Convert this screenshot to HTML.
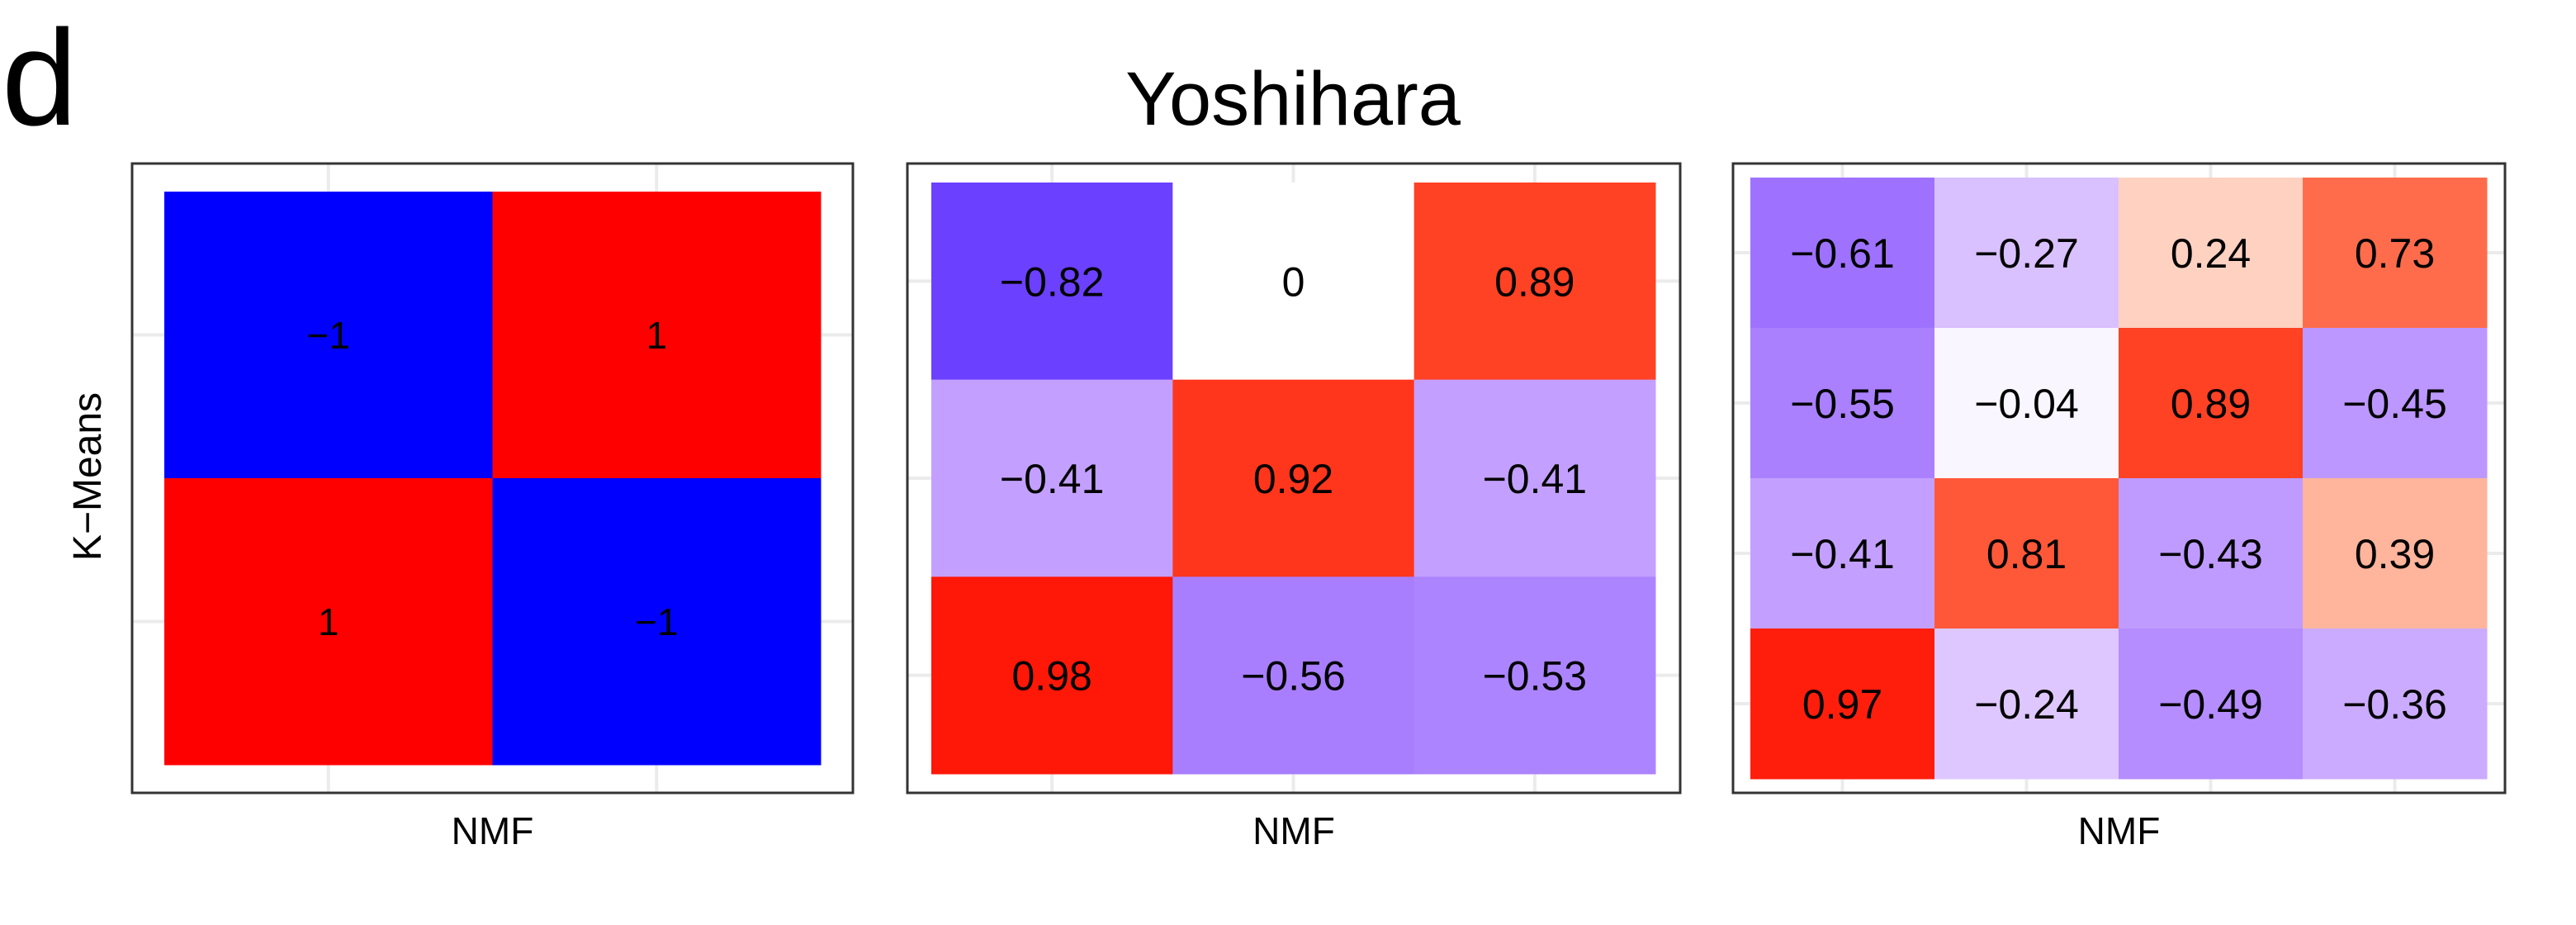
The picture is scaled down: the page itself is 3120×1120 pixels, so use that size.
<!DOCTYPE html>
<html><head><meta charset="utf-8"><style>
html,body{margin:0;padding:0;background:#fff;}
svg{display:block;font-family:"Liberation Sans",Arial,sans-serif;}
</style></head>
<body>
<svg id="chart" width="3120" height="1120" viewBox="0 0 3120 1120" xmlns="http://www.w3.org/2000/svg">
<rect width="3120" height="1120" fill="#fff"/>
<text x="2" y="151" font-size="165">d</text>
<text x="1566" y="151" font-size="92" text-anchor="middle">Yoshihara</text>
<text transform="translate(122,577) rotate(-90)" font-size="48" text-anchor="middle">K−Means</text>
</svg>
<script>
// Data: correlation values, rows listed top to bottom
const values1 = [[-1, 1], [1, -1]];
const values2 = [[-0.82, 0, 0.89], [-0.41, 0.92, -0.41], [0.98, -0.56, -0.53]];
const values3 = [[-0.61, -0.27, 0.24, 0.73], [-0.55, -0.04, 0.89, -0.45], [-0.41, 0.81, -0.43, 0.39], [0.97, -0.24, -0.49, -0.36]];
const labels1 = ['−1', '1', '1', '−1'];
const xAxisTitle = 'NMF';

// Geometry (layout only)
const layout = [
  {bx0:160, bx1:1033, by0:198, by1:960, cx0:199, cx1:994, cy0:232, cy1:926, fs:46},
  {bx0:1099, bx1:2035, by0:198, by1:960, cx0:1128, cx1:2005, cy0:221, cy1:937, fs:50},
  {bx0:2099, bx1:3034, by0:198, by1:960, cx0:2120, cx1:3012, cy0:215, cy1:943, fs:50}
];

// Lab color interpolation (like ggplot scale_fill_gradient2)
function toLin(c){c/=255;return c<=0.04045?c/12.92:Math.pow((c+0.055)/1.055,2.4);}
function fromLin(c){const v=c<=0.0031308?12.92*c:1.055*Math.pow(c,1/2.4)-0.055;return Math.max(0,Math.min(255,Math.round(v*255)));}
function rgb2lab(r,g,b){r=toLin(r);g=toLin(g);b=toLin(b);
  let x=(r*0.4124+g*0.3576+b*0.1805)/0.95047,y=(r*0.2126+g*0.7152+b*0.0722),z=(r*0.0193+g*0.1192+b*0.9505)/1.08883;
  const f=t=>t>0.008856?Math.cbrt(t):7.787*t+16/116;x=f(x);y=f(y);z=f(z);
  return [116*y-16,500*(x-y),200*(y-z)];}
function lab2rgb(L,a,bb){let y=(L+16)/116,x=a/500+y,z=y-bb/200;
  const f=t=>t*t*t>0.008856?t*t*t:(t-16/116)/7.787;x=f(x)*0.95047;y=f(y);z=f(z)*1.08883;
  const r=x*3.2406+y*-1.5372+z*-0.4986,g=x*-0.9689+y*1.8758+z*0.0415,b=x*0.0557+y*-0.2040+z*1.0570;
  return 'rgb('+fromLin(r)+','+fromLin(g)+','+fromLin(b)+')';}
const LW=rgb2lab(255,255,255),LB=rgb2lab(0,0,255),LR=rgb2lab(255,0,0);
function colorScale(v){const t=Math.min(1,Math.abs(v));const e=v<0?LB:LR;
  return lab2rgb(LW[0]+(e[0]-LW[0])*t,LW[1]+(e[1]-LW[1])*t,LW[2]+(e[2]-LW[2])*t);}
function fmt(v){if(v===0)return '0';return (v<0?'−':'')+String(Math.abs(v));}

const svg=document.getElementById('chart');
const NS='http://www.w3.org/2000/svg';
function mk(tag,attrs){const e=document.createElementNS(NS,tag);for(const k in attrs)e.setAttribute(k,attrs[k]);return e;}

const allValues=[values1,values2,values3];
allValues.forEach((vals,p)=>{
  const L=layout[p];
  const nr=vals.length,nc=vals[0].length;
  const xScale=c=>L.cx0+(L.cx1-L.cx0)*c/nc;
  const yScale=r=>L.cy0+(L.cy1-L.cy0)*r/nr;
  const g=mk('g',{});
  
  
  svg.appendChild(g);
  // gridlines
  for(let c=0;c<nc;c++){const x=(xScale(c)+xScale(c+1))/2;
    const l=mk('line',{x1:x,x2:x,y1:L.by0,y2:L.by1,stroke:'#ebebeb','stroke-width':4});
    
    
    g.appendChild(l);}
  for(let r=0;r<nr;r++){const y=(yScale(r)+yScale(r+1))/2;
    const l=mk('line',{x1:L.bx0,x2:L.bx1,y1:y,y2:y,stroke:'#ebebeb','stroke-width':4});
    
    
    g.appendChild(l);}
  for(let r=0;r<nr;r++)for(let c=0;c<nc;c++){
    const v=vals[r][c];
    const x0=xScale(c),x1=xScale(c+1),y0=yScale(r),y1=yScale(r+1);
    const rect=mk('rect',{x:x0,y:y0,width:x1-x0+0.5,height:y1-y0+0.5,fill:colorScale(v)});
    
    
    g.appendChild(rect);
    const t=mk('text',{x:(x0+x1)/2,y:(y0+y1)/2+L.fs*0.36,'font-size':L.fs,'text-anchor':'middle',fill:'#000'});
    t.textContent=p===0?labels1[r*nc+c]:fmt(v);
    
    
    g.appendChild(t);
  }
  const b=mk('rect',{x:L.bx0,y:L.by0,width:L.bx1-L.bx0,height:L.by1-L.by0,fill:'none',stroke:'#333','stroke-width':3});
  
  
  g.appendChild(b);
  const xt=mk('text',{x:(L.bx0+L.bx1)/2,y:1022,'font-size':46,'text-anchor':'middle'});
  xt.textContent=xAxisTitle;
  
  
  g.appendChild(xt);
});
</script>
</body></html>
